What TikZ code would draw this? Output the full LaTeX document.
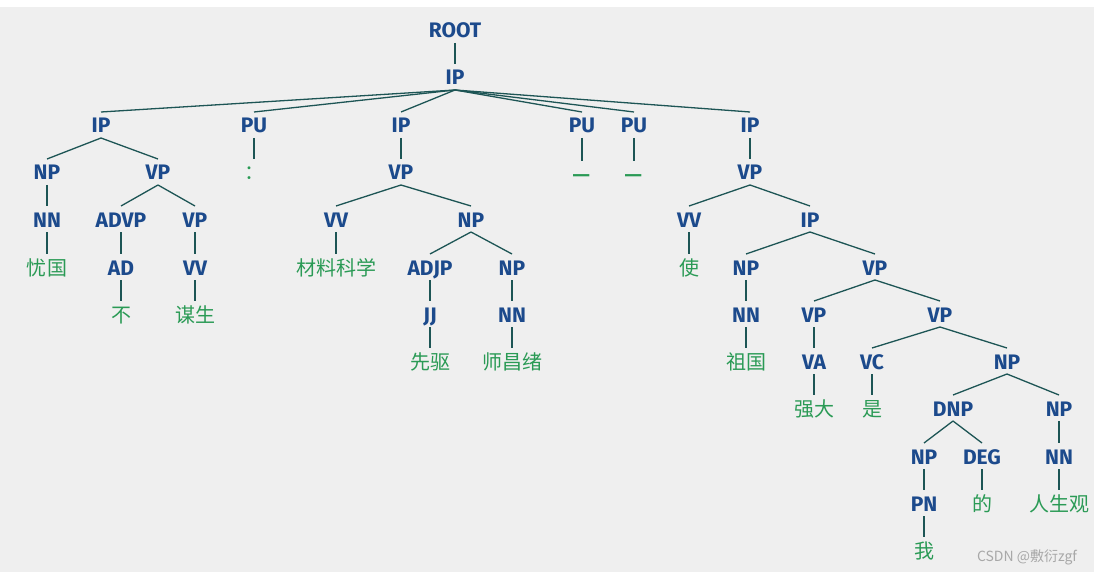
\documentclass[tikz,border=0pt]{standalone}
\usepackage{fontspec}
\setmainfont{Fira Sans}
\newfontfamily\cjk{Noto Sans CJK SC}
\usepackage{tikz}

\definecolor{tagblue}{HTML}{1C4A8C}
\definecolor{wordgreen}{HTML}{2A9A55}
\definecolor{branchcol}{HTML}{1D5555}
\definecolor{panel}{HTML}{EFEFEF}
\definecolor{markgray}{HTML}{A8A8A8}

\begin{document}
\begin{tikzpicture}[x=1pt, y=-1pt,
    every node/.style={inner sep=0pt, outer sep=5pt, text height=16pt, text depth=0pt},
    tagnode/.style={text=tagblue, font=\bfseries\fontsize{21}{21}\selectfont},
    wordnode/.style={text=wordgreen, font=\cjk\fontsize{20}{20}\selectfont},
    branch/.style={draw=branchcol, line width=1.3pt}]

    % Panel
    \useasboundingbox (0,0) rectangle (1094,572);
    \fill[panel] (0,7) rectangle (1094,572);

    % Top of the tree
    \node[tagnode] (root) at (455,30) {ROOT};
    \node[tagnode] (ip) at (455,77) {IP};

    % Children of the main IP
    \node[tagnode] (ipA) at (101,125) {IP};
    \node[tagnode] (puA) at (254,125) {PU};
    \node[tagnode] (ipB) at (401,125) {IP};
    \node[tagnode] (puB) at (582,125) {PU};
    \node[tagnode] (puC) at (634,125) {PU};
    \node[tagnode] (ipC) at (750,125) {IP};

    % Level 3
    \node[tagnode] (npA) at (47,172) {NP};
    \node[tagnode] (vpA) at (158,172) {VP};
    \node[wordnode] (maohao) at (254,172) {：};
    \node[tagnode] (vpB) at (401,172) {VP};
    \node[wordnode, font=\cjk\bfseries\fontsize{20}{20}\selectfont] (dashA) at (582,174) {—};
    \node[wordnode, font=\cjk\bfseries\fontsize{20}{20}\selectfont] (dashB) at (634,174) {—};
    \node[tagnode] (vpC) at (750,172) {VP};

    % Level 4
    \node[tagnode] (nnA) at (47,219) {NN};
    \node[tagnode] (advp) at (121,219) {ADVP};
    \node[tagnode] (vpA2) at (195,219) {VP};
    \node[tagnode] (vvB) at (336,219) {VV};
    \node[tagnode] (npB) at (471,219) {NP};
    \node[tagnode] (vvC) at (689,219) {VV};
    \node[tagnode] (ipD) at (810,219) {IP};

    % Level 5
    \node[wordnode] (youguo) at (47,267) {忧国};
    \node[tagnode] (ad) at (121,267) {AD};
    \node[tagnode] (vvA) at (195,267) {VV};
    \node[wordnode] (cailiao) at (336,267) {材料科学};
    \node[tagnode] (adjp) at (430,267) {ADJP};
    \node[tagnode] (npB2) at (512,267) {NP};
    \node[wordnode] (shiA) at (689,267) {使};
    \node[tagnode] (npC) at (746,267) {NP};
    \node[tagnode] (vpD) at (875,267) {VP};

    % Level 6
    \node[wordnode] (bu) at (121,314) {不};
    \node[wordnode] (mousheng) at (195,314) {谋生};
    \node[tagnode] (jj) at (430,314) {JJ};
    \node[tagnode] (nnB) at (512,314) {NN};
    \node[tagnode] (nnC) at (746,314) {NN};
    \node[tagnode] (vpE) at (814,314) {VP};
    \node[tagnode] (vpF) at (940,314) {VP};

    % Level 7
    \node[wordnode] (xianqu) at (430,361) {先驱};
    \node[wordnode] (shichangxu) at (512,361) {师昌绪};
    \node[wordnode] (zuguo) at (746,361) {祖国};
    \node[tagnode] (va) at (814,361) {VA};
    \node[tagnode] (vc) at (872,361) {VC};
    \node[tagnode] (npD) at (1007,361) {NP};

    % Level 8
    \node[wordnode] (qiangda) at (814,408) {强大};
    \node[wordnode] (shiB) at (872,408) {是};
    \node[tagnode] (dnp) at (953,408) {DNP};
    \node[tagnode] (npE) at (1059,408) {NP};

    % Level 9 to 11
    \node[tagnode] (npF) at (924,456) {NP};
    \node[tagnode] (deg) at (982,456) {DEG};
    \node[tagnode] (nnD) at (1059,456) {NN};
    \node[tagnode] (pn) at (924,503) {PN};
    \node[wordnode] (de) at (982,503) {的};
    \node[wordnode] (renshengguan) at (1059,503) {人生观};
    \node[wordnode] (wo) at (924,550) {我};

    % Branches
    \foreach \a/\b in {root/ip, ip/ipA, ip/puA, ip/ipB, ip/puB, ip/puC, ip/ipC,
        ipA/npA, ipA/vpA, npA/nnA, nnA/youguo, vpA/advp, vpA/vpA2, advp/ad, ad/bu,
        vpA2/vvA, vvA/mousheng, puA/maohao, ipB/vpB, vpB/vvB, vpB/npB, vvB/cailiao,
        npB/adjp, npB/npB2, adjp/jj, jj/xianqu, npB2/nnB, nnB/shichangxu,
        puB/dashA, puC/dashB, ipC/vpC, vpC/vvC, vpC/ipD, vvC/shiA,
        ipD/npC, ipD/vpD, npC/nnC, nnC/zuguo, vpD/vpE, vpD/vpF, vpE/va, va/qiangda,
        vpF/vc, vpF/npD, vc/shiB, npD/dnp, npD/npE, dnp/npF, dnp/deg,
        npF/pn, pn/wo, deg/de, npE/nnD, nnD/renshengguan}
        \draw[branch] (\a.south) -- (\b.north);

    % Watermark
    \node[text=markgray, font=\cjk\fontsize{14}{14}\selectfont] (watermark) at (1027,553) {CSDN @敷衍zgf};

\end{tikzpicture}
\end{document}
